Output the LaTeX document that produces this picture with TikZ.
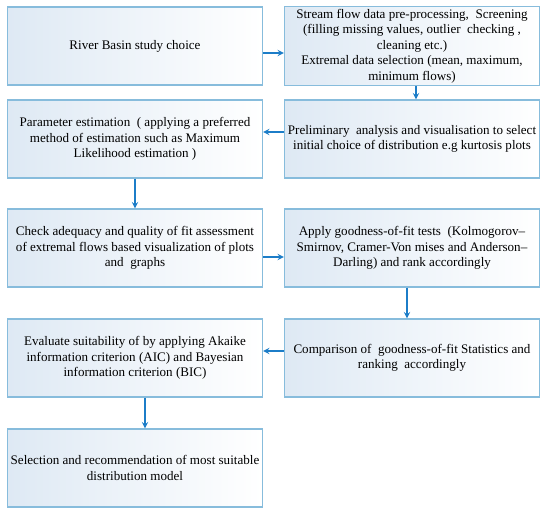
\documentclass[tikz,border=0pt]{standalone}
\usepackage{fontspec}
\setmainfont{Liberation Serif}
\usetikzlibrary{arrows, calc}

\definecolor{edgeblue}{RGB}{135,188,220}
\definecolor{arrowblue}{RGB}{28,125,200}
\definecolor{shadeblue}{RGB}{222,233,244}

\begin{document}
\begin{tikzpicture}[node distance=81.75pt]
% Styles
\tikzstyle{stepbox} = [rectangle, minimum width=191.25pt, minimum height=58.5pt, text centered, draw=edgeblue, line width=0.9pt, left color=shadeblue, right color=white, align=center, inner sep=2pt, font=\rmfamily\fontsize{9.8}{11.7}\selectfont]
\tikzstyle{arrow} = [line width=1.1pt, draw=arrowblue, ->, >=stealth]

\useasboundingbox (-101.25pt,34.5pt) rectangle (311.25pt,-353.25pt);

% Nodes
\node (river) [stepbox] {River Basin study choice};
\node (stream) [stepbox, right of=river, xshift=126pt] {Stream flow data pre-processing,\ \ Screening \\ (filling missing values, outlier\ \ checking , \\ cleaning etc.) \\ Extremal data selection (mean, maximum, \\ minimum flows)};
\node (param) [stepbox, below of=river, yshift=12pt] {Parameter estimation\ \ ( applying a preferred \\ method of estimation such as Maximum \\ Likelihood estimation )};
\node (prelim) [stepbox, right of=param, xshift=126pt] {Preliminary\ \ analysis and visualisation to select \\ initial choice of distribution e.g kurtosis plots};
\node (check) [stepbox, below of=param] {Check adequacy and quality of fit assessment \\ of extremal flows based visualization of plots \\ and\ \ graphs};
\node (apply) [stepbox, right of=check, xshift=126pt] {Apply goodness-of-fit tests\ \ (Kolmogorov{\textendash} \\ Smirnov, Cramer-Von mises and Anderson{\textendash} \\ Darling) and rank accordingly};
\node (evaluate) [stepbox, below of=check, yshift=-0.75pt] {Evaluate suitability of by applying Akaike \\ information criterion (AIC) and Bayesian \\ information criterion (BIC)};
\node (compare) [stepbox, right of=evaluate, xshift=126pt] {Comparison of\ \ goodness-of-fit Statistics and \\ ranking\ \ accordingly};
\node (select) [stepbox, below of=evaluate, yshift=-0.75pt] {Selection and recommendation of most suitable \\ distribution model};

% Arrows
\draw [arrow] ([yshift=-5.25pt]river.east) -- ([yshift=-5.25pt]stream.west);
\draw [arrow] ([xshift=3pt]stream.south) -- ([xshift=3pt]prelim.north);
\draw [arrow] ([yshift=5.25pt]prelim.west) -- ([yshift=5.25pt]param.east);
\draw [arrow] (param) -- (check);
\draw [arrow] ([yshift=-6.75pt]check.east) -- ([yshift=-6.75pt]apply.west);
\draw [arrow] ([xshift=-3.75pt]apply.south) -- ([xshift=-3.75pt]compare.north);
\draw [arrow] ([yshift=5.25pt]compare.west) -- ([yshift=5.25pt]evaluate.east);
\draw [arrow] ([xshift=7.5pt]evaluate.south) -- ([xshift=7.5pt]select.north);
\end{tikzpicture}
\end{document}
